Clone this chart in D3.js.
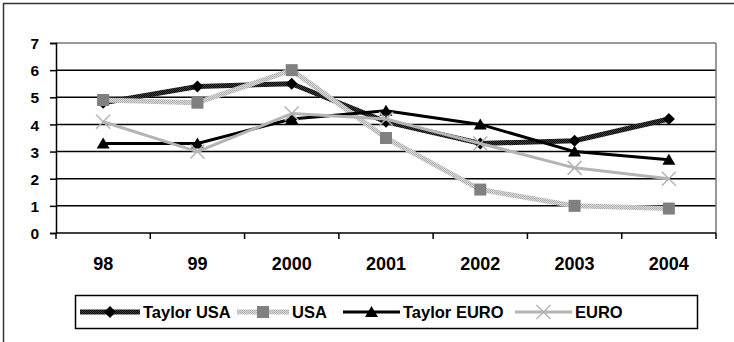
<!DOCTYPE html>
<html><head><meta charset="utf-8">
<script src="https://cdn.jsdelivr.net/npm/d3@7"></script>
<style>body{margin:0;background:#fff}svg{display:block}text{font-family:Arial,"Liberation Sans",sans-serif;font-weight:bold}</style>
</head><body><svg id="c" width="734" height="342"></svg>
<script>
const categories = ["98","99","2000","2001","2002","2003","2004"];
const taylorUSA  = [4.8, 5.4, 5.5, 4.1, 3.3, 3.4, 4.2];
const usa        = [4.9, 4.8, 6.0, 3.5, 1.6, 1.0, 0.9];
const taylorEURO = [3.3, 3.3, 4.2, 4.5, 4.0, 3.0, 2.7];
const euro       = [4.1, 3.0, 4.4, 4.2, 3.3, 2.4, 2.0];
const yTicks = [0,1,2,3,4,5,6,7];
const seriesNames = ["Taylor USA","USA","Taylor EURO","EURO"];

const svg = d3.select("#c");
const defs = svg.append("defs");
const p1 = defs.append("pattern").attr("id","patDark").attr("patternUnits","userSpaceOnUse").attr("width",2).attr("height",2);
p1.append("rect").attr("width",2).attr("height",2).attr("fill","#444");
p1.append("rect").attr("width",1).attr("height",1).attr("fill","#000");
p1.append("rect").attr("x",1).attr("y",1).attr("width",1).attr("height",1).attr("fill","#000");
const p2 = defs.append("pattern").attr("id","patLight").attr("patternUnits","userSpaceOnUse").attr("width",2).attr("height",2);
p2.append("rect").attr("width",2).attr("height",2).attr("fill","#dcdcdc");
p2.append("rect").attr("width",1).attr("height",1).attr("fill","#a8a8a8");
p2.append("rect").attr("x",1).attr("y",1).attr("width",1).attr("height",1).attr("fill","#b4b4b4");

svg.append("rect").attr("x",3.5).attr("y",3.5).attr("width",740).attr("height",350)
  .attr("fill","none").attr("stroke","#333").attr("stroke-width",1.5);

const L=56, R=716, T=43, B=233;
const x = d3.scaleBand().domain(categories).range([L,R]);
const y = d3.scaleLinear().domain([0,7]).range([B,T]);

svg.append("g").selectAll("line").data(yTicks.filter(d=>d>0&&d<7)).join("line")
  .attr("x1",L).attr("x2",R).attr("y1",d=>y(d)).attr("y2",d=>y(d))
  .attr("stroke","#000").attr("stroke-width",1.5);
svg.append("line").attr("x1",L).attr("x2",R).attr("y1",y(7)).attr("y2",y(7)).attr("stroke","#777").attr("stroke-width",1.5);
svg.append("line").attr("x1",R).attr("x2",R).attr("y1",T).attr("y2",B).attr("stroke","#777").attr("stroke-width",1.5);

const ya = svg.append("g").attr("transform",`translate(${L},0)`)
  .call(d3.axisLeft(y).tickValues(yTicks).tickSize(6).tickPadding(11).tickFormat(d3.format("d")));
ya.attr("font-size",null).attr("font-family",null);
ya.select(".domain").attr("stroke","#000").attr("stroke-width",1.5);
ya.selectAll(".tick line").attr("stroke","#000").attr("stroke-width",1.5);
ya.selectAll("text").attr("font-size",15.5).attr("fill","#000").attr("dy","0.36em");

const xa = svg.append("g").attr("transform",`translate(0,${B})`)
  .call(d3.axisBottom(x).tickSize(0).tickPadding(0));
xa.attr("font-size",null).attr("font-family",null);
xa.select(".domain").attr("stroke","#000").attr("stroke-width",1.5).attr("d",`M${L},0H${R}`);
xa.selectAll("text").attr("font-size",18).attr("fill","#000").attr("y",37).attr("dy",null);
svg.append("g").selectAll("line").data(d3.range(categories.length+1)).join("line")
  .attr("x1",i=>L+i*x.step()).attr("x2",i=>L+i*x.step()).attr("y1",B).attr("y2",B+6)
  .attr("stroke","#000").attr("stroke-width",1.5);

const cx = d => x(d)+x.bandwidth()/2;
const line = d3.line().x((d,i)=>cx(categories[i])).y(d=>y(d));

const styles = [
  {data:taylorUSA, stroke:"url(#patDark)", width:5, marker:"diamond", mfill:"#000"},
  {data:usa, stroke:"url(#patLight)", width:5, marker:"square", mfill:"#808080"},
  {data:taylorEURO, stroke:"#000", width:3, marker:"triangle", mfill:"#000"},
  {data:euro, stroke:"#b4b4b4", width:3, marker:"x", mfill:"#b4b4b4"}
];

function drawMarker(g, type, px, py, fill){
  if(type==="diamond"){
    g.append("path").attr("d",`M${px},${py-6}L${px+6},${py}L${px},${py+6}L${px-6},${py}Z`).attr("fill",fill);
  } else if(type==="square"){
    g.append("rect").attr("x",px-6).attr("y",py-6).attr("width",12).attr("height",12).attr("fill",fill);
  } else if(type==="triangle"){
    g.append("path").attr("d",`M${px},${py-6}L${px+6.5},${py+5}L${px-6.5},${py+5}Z`).attr("fill",fill);
  } else {
    g.append("path").attr("d",`M${px-7},${py-7}L${px+7},${py+7}M${px+7},${py-7}L${px-7},${py+7}`).attr("stroke",fill).attr("stroke-width",1.5);
  }
}

styles.forEach(s=>{
  const g = svg.append("g");
  g.append("path").datum(s.data).attr("d",line).attr("fill","none")
    .attr("stroke",s.stroke).attr("stroke-width",s.width).attr("stroke-linejoin","round");
  s.data.forEach((v,i)=>drawMarker(g,s.marker,cx(categories[i]),y(v),s.mfill));
});

svg.append("rect").attr("x",75.5).attr("y",295.5).attr("width",622).attr("height",33)
  .attr("fill","none").attr("stroke","#000").attr("stroke-width",1.5);
const legendX = [80, 237, 343, 515];
const lineLen = [60, 52, 57, 57];
styles.forEach((s,i)=>{
  const g = svg.append("g");
  const ly = 312;
  g.append("line").attr("x1",legendX[i]).attr("x2",legendX[i]+lineLen[i]).attr("y1",ly).attr("y2",ly)
    .attr("stroke",s.stroke).attr("stroke-width",s.width);
  drawMarker(g,s.marker,legendX[i]+lineLen[i]/2,ly,s.mfill);
  g.append("text").attr("x",legendX[i]+lineLen[i]+3).attr("y",ly+6).attr("font-size",16.5).attr("fill","#000")
    .text(seriesNames[i]);
});
</script></body></html>
